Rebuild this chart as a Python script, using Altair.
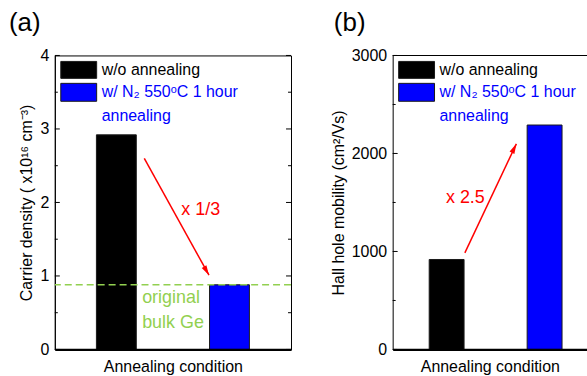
import altair as alt
import pandas as pd

FONT = "Liberation Sans"
GREEN = "#92D050"
RED = "#FF0000"
SPINE = "#000000"

# ---- data -------------------------------------------------------------
conditions = ["w/o annealing", "w/ N₂ 550ᵒC 1 hour annealing"]
bar_colors = ["#000000", "#0000FF"]
carrier_density = [2.92, 0.88]      # x10^16 cm^-3
hall_mobility = [918, 2290]         # cm^2/Vs
bulk_ge = 0.88                      # original bulk Ge level

legend_lines = ["w/o annealing", "w/ N₂ 550ᵒC 1 hour", "annealing"]
legend_colors = ["#000000", "#0000FF", "#0000FF"]

a_minor = [0.5, 1.5, 2.5, 3.5]
a_major = [0, 1, 2, 3, 4]
b_minor = [500, 1500, 2500]
b_major = [0, 1000, 2000, 3000]

# annotation arrows (start -> end, data units)
arrow_a = {"x": [1.247], "y": [2.60], "x2": [1.819], "y2": [1.01]}
arrow_b = {"x": [1.186], "y": [986], "x2": [1.712], "y2": [2098]}
ratio_a = {"x": [1.574], "y": [1.90], "t": ["x 1/3"]}
ratio_b = {"x": [0.993], "y": [1546], "t": ["x 2.5"]}
bulk_text = {"x": [1.228, 1.228], "y": [0.695, 0.366], "t": ["original", "bulk Ge"]}

ARROW_PATH = "M0,0L0.6,2.2L-0.6,2.2Z"


def panel(values, ydom, minor, major, ytitle, xdom, width, height,
          barsize, arrow, angle, ratio, plabel, pdx, full_box, extra=None):
    xs = alt.Scale(domain=xdom, nice=False, zero=False)
    ys = alt.Scale(domain=ydom, nice=False, zero=True)
    df = pd.DataFrame({"condition": conditions, "idx": [1, 2], "value": values})

    bars = alt.Chart(df).mark_bar(size=barsize, stroke="#1a1a1a", strokeWidth=1).encode(
        x=alt.X("idx:Q", scale=xs, axis=alt.Axis(
            title="Annealing condition", labels=False, ticks=False, grid=False,
            domain=True, domainColor="black", domainWidth=2.2, zindex=1,
            titleFont=FONT, titleFontSize=16, titleFontWeight="normal",
            titleColor="black", titlePadding=9)),
        y=alt.Y("value:Q", scale=ys, title=ytitle, axis=alt.Axis(
            values=major, format="d", ticks=False, grid=False, domain=True,
            domainColor=SPINE, domainWidth=1, labelFont=FONT, labelFontSize=16,
            labelColor="black", labelPadding=6, titleFont=FONT, titleFontSize=16,
            titleFontWeight="normal", titleColor="black", titlePadding=5)),
        color=alt.Color("condition:N", scale=alt.Scale(domain=conditions, range=bar_colors), legend=None),
    )

    layers = [bars]
    if extra is not None:
        layers += extra(xs, ys)

    one = pd.DataFrame({"k": [0]})

    # top border for the panel cut at the right edge
    if not full_box:
        layers.append(alt.Chart(one).mark_rect(color=SPINE, opacity=1).encode(
            x=alt.value(0), x2=alt.value(width), y=alt.value(-0.5), y2=alt.value(0.5)))

    # inward ticks
    sides = [0] + ([width] if full_box else [])
    for side in sides:
        for vals, size in ((major, 5), (minor, 3)):
            cx = side + size / 2 if side == 0 else side - size / 2
            layers.append(alt.Chart(pd.DataFrame({"v": vals})).mark_tick(
                orient="horizontal", size=size, thickness=1, color=SPINE, opacity=1).encode(
                y=alt.Y("v:Q", scale=ys, axis=None), x=alt.value(cx)))

    adf = pd.DataFrame(arrow)
    layers.append(alt.Chart(adf).mark_rule(color=RED, strokeWidth=1.5).encode(
        x=alt.X("x:Q", scale=xs, axis=None), x2="x2:Q",
        y=alt.Y("y:Q", scale=ys, axis=None), y2="y2:Q"))

    hdf = pd.DataFrame({"x": arrow["x2"], "y": arrow["y2"]})
    layers.append(alt.Chart(hdf).mark_point(shape=ARROW_PATH, angle=angle, size=81, filled=True,
                                            color=RED, opacity=1).encode(
        x=alt.X("x:Q", scale=xs, axis=None), y=alt.Y("y:Q", scale=ys, axis=None)))

    layers.append(alt.Chart(pd.DataFrame(ratio)).mark_text(
        align="left", baseline="middle", fontSize=18, font=FONT, color=RED).encode(
        x=alt.X("x:Q", scale=xs, axis=None), y=alt.Y("y:Q", scale=ys, axis=None), text="t:N"))

    for (y0, y1), c in zip([(6, 23), (28, 46)], bar_colors):
        layers.append(alt.Chart(one).mark_rect(color=c, stroke="#1a1a1a", strokeWidth=1).encode(
            x=alt.value(6), x2=alt.value(42), y=alt.value(y0), y2=alt.value(y1)))
    for t, yy, c in zip(legend_lines, [15, 37, 61], legend_colors):
        layers.append(alt.Chart(one).mark_text(
            text=t, align="left", baseline="middle", fontSize=16, font=FONT, color=c).encode(
            x=alt.value(47), y=alt.value(yy)))

    props = dict(width=width, height=height,
                 title=alt.Title(plabel, anchor="start", frame="group", dx=pdx, fontSize=26,
                                 fontWeight="normal", font=FONT, color="black", offset=12))
    if full_box:
        props["view"] = alt.ViewBackground(stroke=SPINE, strokeWidth=1)
    return alt.layer(*layers).resolve_axis(x="independent", y="independent").properties(**props)


def bulk_layers(xs, ys):
    rule = alt.Chart(pd.DataFrame({"y": [bulk_ge]})).mark_rule(
        color=GREEN, strokeDash=[7, 4], strokeWidth=1.5).encode(
        y=alt.Y("y:Q", scale=ys, axis=None))
    txt = alt.Chart(pd.DataFrame(bulk_text)).mark_text(
        align="left", baseline="middle", fontSize=18, font=FONT, color=GREEN).encode(
        x=alt.X("x:Q", scale=xs, axis=None), y=alt.Y("y:Q", scale=ys, axis=None), text="t:N")
    return [rule, txt]


pa = panel(carrier_density, [0, 4], a_minor, a_major,
           "Carrier density ( x10¹⁶ cm⁻³)", [0.5, 2.5], 237, 295, 40,
           arrow_a, 150, ratio_a, "(a)", -46, True, bulk_layers)
pb = panel(hall_mobility, [0, 3000], b_minor, b_major,
           "Hall hole mobility (cm²/Vs)", [0.5, 2.382], 195, 295, 35,
           arrow_b, 26.5, ratio_b, "(b)", -59, False)

chart = alt.hconcat(pa, pb, spacing=37).properties(
    padding={"left": 8, "top": 8, "right": 0, "bottom": 0}
).configure_view(stroke=None)

chart.save("out.html", embed_options={"renderer": "svg", "actions": False})
